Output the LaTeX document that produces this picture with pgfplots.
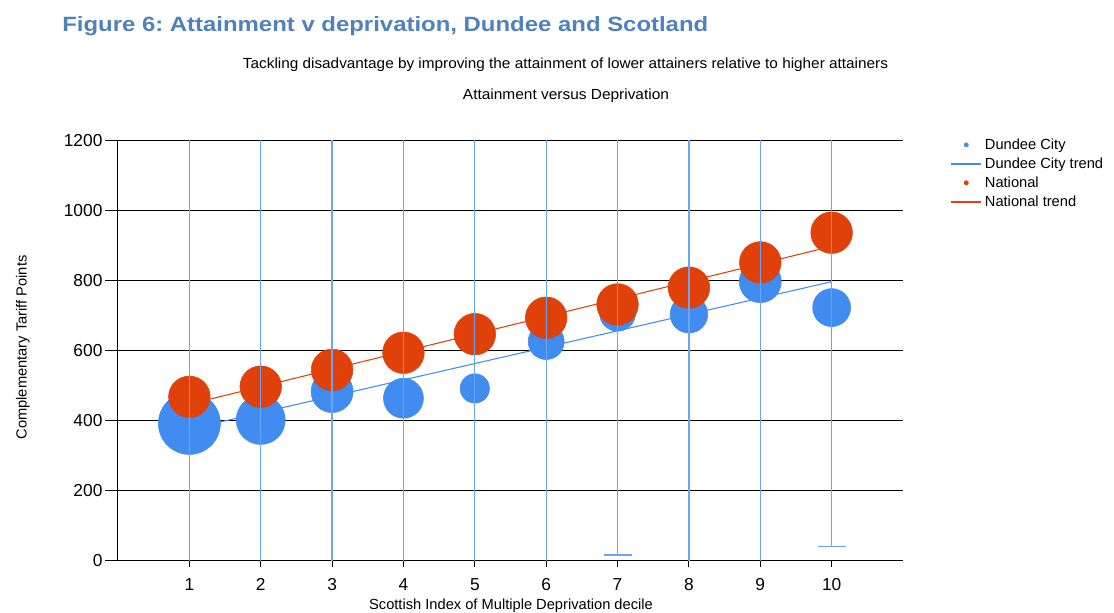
\documentclass[border=0pt]{standalone}
\usepackage{fontspec}
\setmainfont{Liberation Sans}
\usepackage{graphicx}
\usepackage{pgfplots}
\usepackage{pgfplotstable}
\pgfplotsset{compat=1.18}
\frenchspacing
\definecolor{dundee}{HTML}{418CF0}
\definecolor{national}{HTML}{E0400A}
\definecolor{titleblue}{HTML}{4F81BD}
\definecolor{errblue}{HTML}{6AA5F5}
\pgfplotsset{
  longline legend/.style={legend image code/.code={\draw[##1] (0cm,0cm) -- (0.79cm,0cm);}},
  dot legend/.style={legend image code/.code={\draw[mark repeat=2,mark phase=2,##1] plot coordinates {(0cm,0cm) (0.395cm,0cm) (0.79cm,0cm)};}},
}
\pgfplotstableread{
x y r e
1 393 23.25 900
2 403 18.4 850
3 484 15.75 800
4 465 15 800
5 493 11 900
6 627 13.5 750
7 708 13.5 691
8 705 14.1 750
9 798 15.75 850
10 724 14.25 683
}\dundeetab
\pgfplotstableread{
x y e
7 708 691
10 724 683
}\dundeecaps
\pgfplotstableread{
x y r
1 469 15.6
2 498 15.6
3 546 15.6
4 595 15.6
5 648 15.6
6 695 15.6
7 733 15.6
8 781 15.6
9 853 15.6
10 938 15.6
}\nationaltab
\pgfplotstableread{
x y
1 377
10 798
}\dundeetrend
\pgfplotstableread{
x y
1 448
10 899
}\nationaltrend
\begin{document}
\begin{tikzpicture}
\begin{axis}[
  set layers,
  at={(0,0)}, anchor=south west,
  scale only axis, width=588.75pt, height=315pt,
  xmin=0, xmax=11, ymin=0, ymax=1200,
  xtick={1,...,10}, ytick={0,200,...,1200},
  axis x line*=bottom, axis y line*=left,
  axis line style={black, line width=0.75pt, -},
  ymajorgrids, grid style={black, line width=0.75pt},
  tick align=outside,
  major tick length=4.5pt,
  tick style={black, line width=0.75pt},
  ytick style={/pgfplots/major tick length=9.75pt},
  ticklabel style={font=\fontsize{13}{15}\selectfont},
  /pgf/number format/assume math mode=true,
  /pgf/number format/1000 sep={},
  xticklabel style={anchor=base, yshift=-17.5pt, inner sep=0pt},
  yticklabel style={anchor=east, inner sep=0pt, xshift=-7pt},
  clip mode=individual,
  legend cell align=left,
  legend style={at={(1.0548,1.0191)}, anchor=north west, draw=none, fill=none,
    font=\fontsize{11}{13}\selectfont, row sep=0.75pt},
]
\addlegendimage{dot legend, only marks, mark=*, mark size=1.6pt, color=dundee}
\addlegendentry{Dundee City}
\addlegendimage{longline legend, color=dundee, line width=1.5pt}
\addlegendentry{Dundee City trend}
\addlegendimage{dot legend, only marks, mark=*, mark size=1.6pt, color=national}
\addlegendentry{National}
\addlegendimage{longline legend, color=national, line width=1.5pt}
\addlegendentry{National trend}

\addplot[forget plot, dundee, line width=0.8pt] table[x=x,y=y] {\dundeetrend};
\addplot[forget plot, national, line width=0.8pt] table[x=x,y=y] {\nationaltrend};
\addplot[forget plot, scatter, only marks, mark=*,
  scatter/use mapped color={draw=dundee, fill=dundee},
  visualization depends on={\thisrow{r} \as \perpointmarksize},
  scatter/@pre marker code/.append style={/tikz/mark size=\perpointmarksize}]
  table[x=x,y=y] {\dundeetab};
\addplot[forget plot, scatter, only marks, mark=*,
  scatter/use mapped color={draw=national, fill=national},
  visualization depends on={\thisrow{r} \as \perpointmarksize},
  scatter/@pre marker code/.append style={/tikz/mark size=\perpointmarksize}]
  table[x=x,y=y] {\nationaltab};
\addplot[forget plot, on layer=axis foreground, draw=none, mark=none,
  error bars/.cd, y dir=both, y explicit, error mark=none,
  error bar style={draw=errblue, line width=1pt}]
  table[x=x,y=y,y error=e] {\dundeetab};
\addplot[forget plot, on layer=axis foreground, draw=none, mark=none,
  error bars/.cd, y dir=minus, y explicit,
  error bar style={draw=errblue, line width=1pt},
  error mark options={draw=errblue, line width=1pt, mark size=10.5pt, rotate=90}]
  table[x=x,y=y,y error=e] {\dundeecaps};
\end{axis}
\begin{scope}[x=0.75pt,y=0.75pt]
\path (-118,-52) rectangle (996,561);
\node[anchor=base west, text=titleblue, font=\fontsize{15.5}{18}\selectfont\bfseries, inner sep=0pt] at (-56,529.3) {\resizebox{484.5pt}{\height}{Figure 6: Attainment v deprivation, Dundee and Scotland}};
\node[anchor=base, inner sep=0pt, font=\fontsize{11}{13}\selectfont] at (447.5,492.7) {\resizebox{483.75pt}{\height}{Tackling disadvantage by improving the attainment of lower attainers relative to higher attainers}};
\node[anchor=base, inner sep=0pt, font=\fontsize{11}{13}\selectfont] at (448,461.7) {\resizebox{154.5pt}{\height}{Attainment versus Deprivation}};
\node[anchor=base, inner sep=0pt, font=\fontsize{11}{13}\selectfont] at (393,-48.5) {Scottish Index of Multiple Deprivation decile};
\node[anchor=base, rotate=90, inner sep=0pt, font=\fontsize{11}{13}\selectfont] at (-91.3,213.5) {Complementary Tariff Points};
\end{scope}
\end{tikzpicture}
\end{document}
